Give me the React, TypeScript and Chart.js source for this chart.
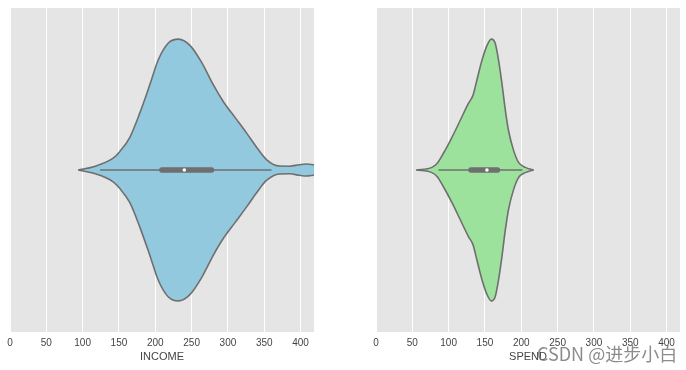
import React, { useEffect, useRef } from "react";
import { Chart, registerables } from "chart.js";

Chart.register(...registerables);

// ---------- data ----------
const X_TICKS = [0, 50, 100, 150, 200, 250, 300, 350, 400];
const X_MAX = 418.5;

// INCOME violin outline: value positions and relative density (peak = 1)
const INCOME_X = [94, 115, 142, 151, 165, 179, 193, 204, 218, 232, 248, 264, 280, 294, 310, 326, 340, 353, 371, 385, 398, 408, 418, 432];
const INCOME_DENSITY = [0, 0.025, 0.09, 0.14, 0.25, 0.44, 0.66, 0.84, 0.97, 1, 0.95, 0.82, 0.65, 0.52, 0.4, 0.28, 0.17, 0.08, 0.03, 0.029, 0.04, 0.046, 0.04, 0.03];
const INCOME_WHISKERS = [124, 360];
const INCOME_BOX = [209, 277.5];
const INCOME_MEDIAN = 240;

// SPEND violin outline
const SPEND_X = [55.5, 77, 84, 93, 104.6, 116, 127.4, 133.5, 139, 146, 152.7, 158.7, 164, 168.7, 173.4, 178, 182.5, 189.4, 196, 205.5, 217];
const SPEND_DENSITY = [0, 0.02, 0.05, 0.13, 0.25, 0.38, 0.51, 0.57, 0.69, 0.84, 0.95, 1, 0.97, 0.84, 0.66, 0.46, 0.3, 0.15, 0.06, 0.02, 0];
const SPEND_WHISKERS = [86, 201.5];
const SPEND_BOX = [130.7, 167.4];
const SPEND_MEDIAN = 152.7;

// ---------- style ----------
const HALF = 0.404;
const LINE = "#6f6f6f";
const TEXT = "#444444";
const FONT = "'Liberation Sans', Arial, sans-serif";
const W = 343;
const H = 370;

const bgPlugin = {
  id: "panelBg",
  beforeDraw(chart: any) {
    const { ctx, chartArea } = chart;
    if (!chartArea) return;
    ctx.save();
    ctx.fillStyle = "#e5e5e5";
    ctx.fillRect(chartArea.left, chartArea.top, chartArea.right - chartArea.left, chartArea.bottom - chartArea.top);
    ctx.restore();
  },
};

type PanelProps = {
  xs: number[];
  dens: number[];
  whiskers: number[];
  box: number[];
  median: number;
  color: string;
  title: string;
  left: number;
  padLeft: number;
  padRight: number;
};

function Panel(p: PanelProps) {
  const ref = useRef<HTMLCanvasElement | null>(null);
  useEffect(() => {
    if (!ref.current) return;
    const upper = p.xs.map((x, i) => ({ x, y: p.dens[i] * HALF }));
    const lower = p.xs.map((x, i) => ({ x, y: -p.dens[i] * HALF }));
    const chart = new Chart(ref.current, {
      type: "line",
      data: {
        datasets: [
          {
            data: upper,
            borderColor: LINE,
            borderWidth: 1.6,
            backgroundColor: p.color,
            fill: "+1",
            pointRadius: 0,
            cubicInterpolationMode: "monotone",
            order: 4,
          },
          {
            data: lower,
            borderColor: LINE,
            borderWidth: 1.6,
            backgroundColor: p.color,
            fill: false,
            pointRadius: 0,
            cubicInterpolationMode: "monotone",
            order: 3,
          },
          {
            data: p.whiskers.map((x) => ({ x, y: 0 })),
            borderColor: LINE,
            borderWidth: 1.6,
            pointRadius: 0,
            fill: false,
            order: 2,
          },
          {
            data: p.box.map((x) => ({ x, y: 0 })),
            borderColor: LINE,
            borderWidth: 5.3,
            borderCapStyle: "round",
            pointRadius: 0,
            fill: false,
            order: 1,
          },
          {
            data: [{ x: p.median, y: 0 }],
            showLine: false,
            pointRadius: 1.8,
            pointBackgroundColor: "#ffffff",
            pointBorderWidth: 0,
            fill: false,
            order: 0,
          },
        ],
      } as any,
      options: {
        responsive: false,
        animation: false,
        events: [],
        layout: { padding: { left: p.padLeft, right: p.padRight, top: 8, bottom: 2.3 } },
        plugins: { legend: { display: false }, tooltip: { enabled: false } },
        scales: {
          x: {
            type: "linear",
            min: 0,
            max: X_MAX,
            afterBuildTicks: (s: any) => {
              s.ticks = X_TICKS.map((v) => ({ value: v }));
            },
            ticks: {
              autoSkip: false,
              maxRotation: 0,
              padding: 5,
              color: TEXT,
              font: { family: FONT, size: 10 },
            },
            grid: { color: "#ffffff", lineWidth: 1, drawTicks: false },
            border: { display: false },
            title: {
              display: true,
              text: p.title,
              color: TEXT,
              font: { family: FONT, size: 11 },
              padding: { top: -3.5, bottom: 4 },
            },
          },
          y: { type: "linear", min: -0.5, max: 0.5, display: false },
        },
      } as any,
      plugins: [bgPlugin],
    });
    return () => chart.destroy();
  }, []);
  return (
    <canvas
      ref={ref}
      width={W}
      height={H}
      style={{ position: "absolute", left: p.left, top: 0, width: W, height: H, display: "block" }}
    />
  );
}

export default function App() {
  return (
    <div style={{ position: "fixed", left: 0, top: 0, width: 686, height: 370, background: "#ffffff", overflow: "hidden" }}>
      <Panel xs={INCOME_X} dens={INCOME_DENSITY} whiskers={INCOME_WHISKERS} box={INCOME_BOX} median={INCOME_MEDIAN}
        color="#93c9de" title="INCOME" left={0} padLeft={10} padRight={W - 314} />
      <Panel xs={SPEND_X} dens={SPEND_DENSITY} whiskers={SPEND_WHISKERS} box={SPEND_BOX} median={SPEND_MEDIAN}
        color="#9ce29c" title="SPEND" left={343} padLeft={376 - 343} padRight={6} />
      <span
        style={{
          position: "absolute",
          left: 537,
          top: 343,
          fontFamily: "'Noto Sans CJK SC', sans-serif",
          fontSize: 18,
          lineHeight: "20px",
          color: "rgba(120,120,120,0.85)",
          whiteSpace: "nowrap",
        }}
      >
        CSDN @进步小白
      </span>
    </div>
  );
}
